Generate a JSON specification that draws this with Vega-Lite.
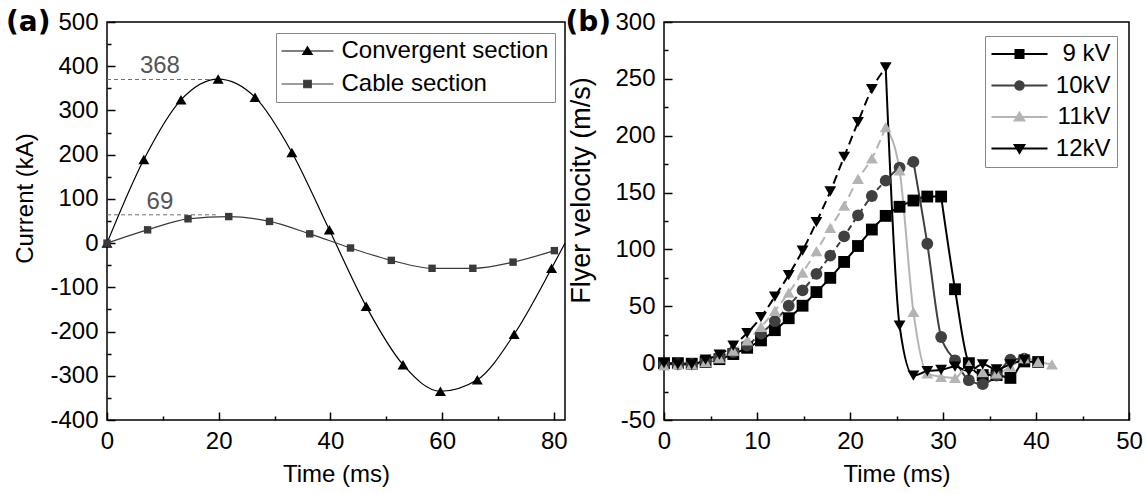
{
  "$schema": "https://vega.github.io/schema/vega-lite/v6.json",
  "background": "white",
  "padding": {"left": 5, "top": 7, "right": 0, "bottom": 0},
  "bounds": "flush",
  "spacing": 99,
  "resolve": {
    "scale": {"color": "independent", "stroke": "independent", "shape": "independent", "size": "independent", "strokeDash": "independent"},
    "legend": {"color": "independent", "stroke": "independent", "shape": "independent", "size": "independent", "strokeDash": "independent"}
  },
  "config": {
    "font": "Liberation Sans",
    "view": {"stroke": "black", "strokeWidth": 1.5},
    "axis": {
      "grid": false, "domain": false, "ticks": true,
      "tickColor": "black", "tickWidth": 1.5,
      "labelFont": "Liberation Sans", "labelFontSize": 24, "labelColor": "black",
      "titleFont": "Liberation Sans", "titleFontSize": 24, "titleFontWeight": "normal", "titleColor": "black",
      "labelOverlap": false, "labelFlush": false
    },
    "title": {"font": "DejaVu Sans", "fontSize": 28, "fontWeight": "bold", "color": "black", "anchor": "start", "frame": "group"}
  },
  "datasets": {
    "peaks": [
      {"t0": 0, "t1": 19.5, "value": 370, "label": "368"},
      {"t0": 0, "t1": 19.5, "value": 64, "label": "69"}
    ],
    "current": [
      {"series": "Convergent section", "t": 0, "I": 0},
      {"series": "Convergent section", "t": 6.6, "I": 189},
      {"series": "Convergent section", "t": 13.25, "I": 324},
      {"series": "Convergent section", "t": 19.9, "I": 371},
      {"series": "Convergent section", "t": 26.5, "I": 330},
      {"series": "Convergent section", "t": 33.1, "I": 205},
      {"series": "Convergent section", "t": 39.8, "I": 30},
      {"series": "Convergent section", "t": 46.4, "I": -143},
      {"series": "Convergent section", "t": 53.0, "I": -275},
      {"series": "Convergent section", "t": 59.7, "I": -335},
      {"series": "Convergent section", "t": 66.3, "I": -309},
      {"series": "Convergent section", "t": 72.9, "I": -206},
      {"series": "Convergent section", "t": 79.6, "I": -57},
      {"series": "Convergent section", "t": 82, "I": 0},
      {"series": "Cable section", "t": 0, "I": 0},
      {"series": "Cable section", "t": 7.27, "I": 30},
      {"series": "Cable section", "t": 14.5, "I": 55},
      {"series": "Cable section", "t": 21.8, "I": 60},
      {"series": "Cable section", "t": 29.1, "I": 49},
      {"series": "Cable section", "t": 36.3, "I": 21},
      {"series": "Cable section", "t": 43.6, "I": -11},
      {"series": "Cable section", "t": 50.9, "I": -39},
      {"series": "Cable section", "t": 58.2, "I": -57},
      {"series": "Cable section", "t": 65.5, "I": -57},
      {"series": "Cable section", "t": 72.7, "I": -43},
      {"series": "Cable section", "t": 80.1, "I": -17}
    ],
    "velocity": [
      {"voltage": "9 kV", "t": 0, "v": 0, "phase": "rise"},
      {"voltage": "9 kV", "t": 1.49, "v": 0, "phase": "rise"},
      {"voltage": "9 kV", "t": 2.98, "v": -0.5, "phase": "rise"},
      {"voltage": "9 kV", "t": 4.47, "v": 1, "phase": "rise"},
      {"voltage": "9 kV", "t": 5.96, "v": 3.5, "phase": "rise"},
      {"voltage": "9 kV", "t": 7.45, "v": 8, "phase": "rise"},
      {"voltage": "9 kV", "t": 8.94, "v": 13.5, "phase": "rise"},
      {"voltage": "9 kV", "t": 10.43, "v": 20, "phase": "rise"},
      {"voltage": "9 kV", "t": 11.92, "v": 29, "phase": "rise"},
      {"voltage": "9 kV", "t": 13.41, "v": 39.5, "phase": "rise"},
      {"voltage": "9 kV", "t": 14.9, "v": 50.5, "phase": "rise"},
      {"voltage": "9 kV", "t": 16.39, "v": 62.5, "phase": "rise"},
      {"voltage": "9 kV", "t": 17.88, "v": 75, "phase": "rise"},
      {"voltage": "9 kV", "t": 19.37, "v": 89, "phase": "rise"},
      {"voltage": "9 kV", "t": 20.86, "v": 103, "phase": "rise"},
      {"voltage": "9 kV", "t": 22.35, "v": 117.5, "phase": "rise"},
      {"voltage": "9 kV", "t": 23.84, "v": 129.5, "phase": "rise"},
      {"voltage": "9 kV", "t": 25.33, "v": 137.5, "phase": "rise"},
      {"voltage": "9 kV", "t": 26.82, "v": 143, "phase": "rise"},
      {"voltage": "9 kV", "t": 28.31, "v": 146.5, "phase": "rise"},
      {"voltage": "9 kV", "t": 29.8, "v": 146.5, "phase": "peak"},
      {"voltage": "9 kV", "t": 31.29, "v": 65, "phase": "fall"},
      {"voltage": "9 kV", "t": 32.78, "v": 0, "phase": "fall"},
      {"voltage": "9 kV", "t": 34.27, "v": -10.5, "phase": "fall"},
      {"voltage": "9 kV", "t": 35.76, "v": -10.5, "phase": "fall"},
      {"voltage": "9 kV", "t": 37.25, "v": -13, "phase": "fall"},
      {"voltage": "9 kV", "t": 38.74, "v": 1.5, "phase": "fall"},
      {"voltage": "9 kV", "t": 40.23, "v": 1, "phase": "fall"},
      {"voltage": "10kV", "t": 0, "v": -1, "phase": "rise"},
      {"voltage": "10kV", "t": 1.49, "v": -1, "phase": "rise"},
      {"voltage": "10kV", "t": 2.98, "v": -1, "phase": "rise"},
      {"voltage": "10kV", "t": 4.47, "v": 2, "phase": "rise"},
      {"voltage": "10kV", "t": 5.96, "v": 5, "phase": "rise"},
      {"voltage": "10kV", "t": 7.45, "v": 9.7, "phase": "rise"},
      {"voltage": "10kV", "t": 8.94, "v": 15.5, "phase": "rise"},
      {"voltage": "10kV", "t": 10.43, "v": 26, "phase": "rise"},
      {"voltage": "10kV", "t": 11.92, "v": 37, "phase": "rise"},
      {"voltage": "10kV", "t": 13.41, "v": 50.5, "phase": "rise"},
      {"voltage": "10kV", "t": 14.9, "v": 64, "phase": "rise"},
      {"voltage": "10kV", "t": 16.39, "v": 78.5, "phase": "rise"},
      {"voltage": "10kV", "t": 17.88, "v": 94.5, "phase": "rise"},
      {"voltage": "10kV", "t": 19.37, "v": 111.5, "phase": "rise"},
      {"voltage": "10kV", "t": 20.86, "v": 130, "phase": "rise"},
      {"voltage": "10kV", "t": 22.35, "v": 147, "phase": "rise"},
      {"voltage": "10kV", "t": 23.84, "v": 160.5, "phase": "rise"},
      {"voltage": "10kV", "t": 25.33, "v": 172, "phase": "rise"},
      {"voltage": "10kV", "t": 26.82, "v": 177, "phase": "peak"},
      {"voltage": "10kV", "t": 28.31, "v": 105, "phase": "fall"},
      {"voltage": "10kV", "t": 29.8, "v": 23, "phase": "fall"},
      {"voltage": "10kV", "t": 31.29, "v": 2.5, "phase": "fall"},
      {"voltage": "10kV", "t": 32.78, "v": -15, "phase": "fall"},
      {"voltage": "10kV", "t": 34.27, "v": -18.5, "phase": "fall"},
      {"voltage": "10kV", "t": 35.76, "v": -11, "phase": "fall"},
      {"voltage": "10kV", "t": 37.25, "v": 3, "phase": "fall"},
      {"voltage": "10kV", "t": 38.74, "v": 4, "phase": "fall"},
      {"voltage": "11kV", "t": 0, "v": -2, "phase": "rise"},
      {"voltage": "11kV", "t": 1.49, "v": -1, "phase": "rise"},
      {"voltage": "11kV", "t": 2.98, "v": -1, "phase": "rise"},
      {"voltage": "11kV", "t": 4.47, "v": 1, "phase": "rise"},
      {"voltage": "11kV", "t": 5.96, "v": 4.5, "phase": "rise"},
      {"voltage": "11kV", "t": 7.45, "v": 11, "phase": "rise"},
      {"voltage": "11kV", "t": 8.94, "v": 20, "phase": "rise"},
      {"voltage": "11kV", "t": 10.43, "v": 32, "phase": "rise"},
      {"voltage": "11kV", "t": 11.92, "v": 46, "phase": "rise"},
      {"voltage": "11kV", "t": 13.41, "v": 62, "phase": "rise"},
      {"voltage": "11kV", "t": 14.9, "v": 79.5, "phase": "rise"},
      {"voltage": "11kV", "t": 16.39, "v": 98.5, "phase": "rise"},
      {"voltage": "11kV", "t": 17.88, "v": 119, "phase": "rise"},
      {"voltage": "11kV", "t": 19.37, "v": 138.5, "phase": "rise"},
      {"voltage": "11kV", "t": 20.86, "v": 162, "phase": "rise"},
      {"voltage": "11kV", "t": 22.35, "v": 180, "phase": "rise"},
      {"voltage": "11kV", "t": 23.84, "v": 207.5, "phase": "peak"},
      {"voltage": "11kV", "t": 25.33, "v": 169.5, "phase": "fall"},
      {"voltage": "11kV", "t": 26.82, "v": 45, "phase": "fall"},
      {"voltage": "11kV", "t": 28.31, "v": -9, "phase": "fall"},
      {"voltage": "11kV", "t": 29.8, "v": -12, "phase": "fall"},
      {"voltage": "11kV", "t": 31.29, "v": -13, "phase": "fall"},
      {"voltage": "11kV", "t": 32.78, "v": -1.5, "phase": "fall"},
      {"voltage": "11kV", "t": 34.27, "v": -8, "phase": "fall"},
      {"voltage": "11kV", "t": 35.76, "v": -9, "phase": "fall"},
      {"voltage": "11kV", "t": 37.25, "v": -3, "phase": "fall"},
      {"voltage": "11kV", "t": 38.74, "v": 4.5, "phase": "fall"},
      {"voltage": "11kV", "t": 40.23, "v": 1, "phase": "fall"},
      {"voltage": "11kV", "t": 41.72, "v": -1, "phase": "fall"},
      {"voltage": "12kV", "t": 0, "v": 0, "phase": "rise"},
      {"voltage": "12kV", "t": 1.49, "v": -1, "phase": "rise"},
      {"voltage": "12kV", "t": 2.98, "v": -1, "phase": "rise"},
      {"voltage": "12kV", "t": 4.47, "v": 3, "phase": "rise"},
      {"voltage": "12kV", "t": 5.96, "v": 7.5, "phase": "rise"},
      {"voltage": "12kV", "t": 7.45, "v": 15.5, "phase": "rise"},
      {"voltage": "12kV", "t": 8.94, "v": 26.5, "phase": "rise"},
      {"voltage": "12kV", "t": 10.43, "v": 40.5, "phase": "rise"},
      {"voltage": "12kV", "t": 11.92, "v": 58.5, "phase": "rise"},
      {"voltage": "12kV", "t": 13.41, "v": 77.5, "phase": "rise"},
      {"voltage": "12kV", "t": 14.9, "v": 99, "phase": "rise"},
      {"voltage": "12kV", "t": 16.39, "v": 124, "phase": "rise"},
      {"voltage": "12kV", "t": 17.88, "v": 151, "phase": "rise"},
      {"voltage": "12kV", "t": 19.37, "v": 181.5, "phase": "rise"},
      {"voltage": "12kV", "t": 20.86, "v": 212, "phase": "rise"},
      {"voltage": "12kV", "t": 22.35, "v": 241, "phase": "rise"},
      {"voltage": "12kV", "t": 23.84, "v": 260, "phase": "peak"},
      {"voltage": "12kV", "t": 25.33, "v": 33, "phase": "fall"},
      {"voltage": "12kV", "t": 26.82, "v": -11, "phase": "fall"},
      {"voltage": "12kV", "t": 28.31, "v": -7, "phase": "fall"},
      {"voltage": "12kV", "t": 29.8, "v": -6, "phase": "fall"},
      {"voltage": "12kV", "t": 31.29, "v": -3, "phase": "fall"},
      {"voltage": "12kV", "t": 32.78, "v": -7, "phase": "fall"},
      {"voltage": "12kV", "t": 34.27, "v": -1, "phase": "fall"},
      {"voltage": "12kV", "t": 35.76, "v": -5.5, "phase": "fall"},
      {"voltage": "12kV", "t": 37.25, "v": -1, "phase": "fall"},
      {"voltage": "12kV", "t": 38.74, "v": 3, "phase": "fall"}
    ]
  },
  "hconcat": [
    {
      "width": 458,
      "height": 398,
      "title": {"text": "(a)", "dx": -101, "dy": 48.5, "baseline": "alphabetic", "offset": 0},
      "layer": [
        {
          "data": {"name": "peaks"},
          "mark": {"type": "rule", "strokeDash": [4, 3], "color": "#707070", "strokeWidth": 1},
          "encoding": {
            "x": {"field": "t0", "type": "quantitative", "scale": {"domain": [0, 82], "nice": false, "zero": false},
              "axis": {"orient": "bottom", "values": [0, 20, 40, 60, 80], "tickSize": -8, "labelPadding": 17, "title": "Time (ms)", "titleY": 42, "titleBaseline": "top", "labelExpr": "replace(datum.label, '\u2212', '-')"}},
            "x2": {"field": "t1"},
            "y": {"field": "value", "type": "quantitative", "scale": {"domain": [-400, 500], "nice": false, "zero": false},
              "axis": {"orient": "left", "values": [-400, -300, -200, -100, 0, 100, 200, 300, 400, 500], "tickSize": -8, "labelPadding": 17, "title": "Current (kA)", "titleX": -70, "titleY": 176, "titleAngle": 270, "titleBaseline": "bottom", "titleAlign": "center", "labelExpr": "replace(datum.label, '\u2212', '-')"}}
          }
        },
        {
          "data": {"name": "peaks"},
          "mark": {"type": "text", "fontSize": 24, "font": "Liberation Sans", "color": "#555555", "align": "center", "baseline": "alphabetic", "dx": -56, "dy": -6},
          "encoding": {
            "x": {"field": "t1", "type": "quantitative", "scale": {"domain": [0, 82], "nice": false, "zero": false}, "axis": null},
            "y": {"field": "value", "type": "quantitative", "scale": {"domain": [-400, 500], "nice": false, "zero": false}, "axis": null},
            "text": {"field": "label"}
          }
        },
        {
          "data": {"name": "current"},
          "transform": [{"filter": "datum.t <= 81"}],
          "mark": {"type": "point", "filled": true, "opacity": 0},
          "encoding": {
            "x": {"field": "t", "type": "quantitative", "scale": {"domain": [0, 82], "nice": false, "zero": false}, "axis": null},
            "y": {"field": "I", "type": "quantitative", "scale": {"domain": [-400, 500], "nice": false, "zero": false}, "axis": null},
            "shape": {"field": "series", "type": "nominal", "scale": {"domain": ["Convergent section", "Cable section"], "range": ["M-5.2,0H5.2M0,-0.85L0.95,0.7L-0.95,0.7Z", "M-5.2,0H5.2M-0.75,-0.75H0.75V0.75H-0.75Z"]},
              "legend": {"orient": "none", "legendX": 169, "legendY": 11, "title": null, "padding": 6, "strokeColor": "#888888", "fillColor": "white",
                "labelFont": "Liberation Sans", "labelFontSize": 24, "labelColor": "black", "labelLimit": 400, "symbolSize": 100, "symbolOffset": 13.5, "labelOffset": 22, "rowPadding": 9, "symbolStrokeWidth": 1.2, "symbolOpacity": 1,
                "labelExpr": "datum.label === 'Cable section' ? '\u00a0\u00a0\u00a0\u00a0' + datum.label : datum.label"}},
            "color": {"field": "series", "type": "nominal", "scale": {"domain": ["Convergent section", "Cable section"], "range": ["#000000", "#3a3a3a"]},
              "legend": {"orient": "none", "legendX": 169, "legendY": 11, "title": null, "padding": 6, "strokeColor": "#888888", "fillColor": "white",
                "labelFont": "Liberation Sans", "labelFontSize": 24, "labelColor": "black", "labelLimit": 400, "symbolSize": 100, "symbolOffset": 13.5, "labelOffset": 22, "rowPadding": 9, "symbolStrokeWidth": 1.2, "symbolOpacity": 1,
                "labelExpr": "datum.label === 'Cable section' ? '\u00a0\u00a0\u00a0\u00a0' + datum.label : datum.label"}},
            "stroke": {"field": "series", "type": "nominal", "scale": {"domain": ["Convergent section", "Cable section"], "range": ["#000000", "#3a3a3a"]},
              "legend": {"orient": "none", "legendX": 169, "legendY": 11, "title": null, "padding": 6, "strokeColor": "#888888", "fillColor": "white",
                "labelFont": "Liberation Sans", "labelFontSize": 24, "labelColor": "black", "labelLimit": 400, "symbolSize": 100, "symbolOffset": 13.5, "labelOffset": 22, "rowPadding": 9, "symbolStrokeWidth": 1.2, "symbolOpacity": 1,
                "labelExpr": "datum.label === 'Cable section' ? '\u00a0\u00a0\u00a0\u00a0' + datum.label : datum.label"}}
          }
        },
        {
          "data": {"name": "current"},
          "mark": {"type": "line", "interpolate": "monotone", "strokeWidth": 1.2},
          "encoding": {
            "x": {"field": "t", "type": "quantitative", "scale": {"domain": [0, 82], "nice": false, "zero": false},
              "axis": {"orient": "bottom", "values": [10, 30, 50, 70], "tickSize": -4, "labels": false, "title": null}},
            "y": {"field": "I", "type": "quantitative", "scale": {"domain": [-400, 500], "nice": false, "zero": false},
              "axis": {"orient": "left", "values": [-350, -250, -150, -50, 50, 150, 250, 350, 450], "tickSize": -4, "labels": false, "title": null}},
            "color": {"field": "series", "type": "nominal", "scale": {"domain": ["Convergent section", "Cable section"], "range": ["#000000", "#3a3a3a"]}, "legend": null}
          }
        },
        {
          "data": {"name": "current"},
          "transform": [{"filter": "datum.t <= 81"}],
          "mark": {"type": "point", "filled": true, "opacity": 1},
          "encoding": {
            "x": {"field": "t", "type": "quantitative", "scale": {"domain": [0, 82], "nice": false, "zero": false}, "axis": null},
            "y": {"field": "I", "type": "quantitative", "scale": {"domain": [-400, 500], "nice": false, "zero": false}, "axis": null},
            "size": {"field": "series", "type": "nominal", "scale": {"domain": ["Cable section", "Convergent section"], "range": [55, 120]}, "legend": null},
            "shape": {"field": "series", "type": "nominal", "scale": {"domain": ["Cable section", "Convergent section"], "range": ["square", "triangle-up"]}, "legend": null},
            "color": {"field": "series", "type": "nominal", "scale": {"domain": ["Convergent section", "Cable section"], "range": ["#000000", "#3a3a3a"]}, "legend": null}
          }
        }
      ],
      "resolve": {
        "axis": {"x": "independent", "y": "independent"},
        "scale": {"color": "independent", "stroke": "independent", "shape": "independent", "size": "independent"},
        "legend": {"color": "independent", "stroke": "independent", "shape": "independent", "size": "independent"}
      }
    },
    {
      "width": 465,
      "height": 398,
      "title": {"text": "(b)", "dx": -98.5, "dy": 48.5, "baseline": "alphabetic", "offset": 0},
      "layer": [
        {
          "data": {"name": "velocity"},
          "mark": {"type": "point", "filled": true, "opacity": 0},
          "encoding": {
            "x": {"field": "t", "type": "quantitative", "scale": {"domain": [0, 50], "nice": false, "zero": false},
              "axis": {"orient": "bottom", "values": [0, 10, 20, 30, 40, 50], "tickSize": -8, "labelPadding": 17, "title": "Time (ms)", "titleY": 42, "titleBaseline": "top", "labelExpr": "replace(datum.label, '\u2212', '-')"}},
            "y": {"field": "v", "type": "quantitative", "scale": {"domain": [-50, 300], "nice": false, "zero": false},
              "axis": {"orient": "left", "values": [-50, 0, 50, 100, 150, 200, 250, 300], "tickSize": -8, "labelPadding": 17, "title": "Flyer velocity (m/s)", "titleFontSize": 27, "titleX": -69, "titleY": 168, "titleAngle": 270, "titleBaseline": "bottom", "titleAlign": "center", "labelExpr": "replace(datum.label, '\u2212', '-')"}},
            "shape": {"field": "voltage", "type": "nominal", "scale": {"domain": ["9 kV", "10kV", "11kV", "12kV"], "range": ["M-5.6,0H5.6M-0.8,-0.8H0.8V0.8H-0.8Z", "M-5.6,0H5.6M0.85,0A0.85,0.85,0,1,1,-0.85,0A0.85,0.85,0,1,1,0.85,0Z", "M-5.6,0H5.6M0,-0.85L0.95,0.7L-0.95,0.7Z", "M-5.6,0H5.6M-0.95,-0.7L0.95,-0.7L0,0.85Z"]},
              "legend": {"orient": "none", "legendX": 321, "legendY": 14, "title": null, "padding": 6, "strokeColor": "#888888", "fillColor": "white",
                "labelFont": "Liberation Sans", "labelFontSize": 24, "labelColor": "black", "labelAlign": "right", "labelLimit": 400, "symbolSize": 100, "symbolOffset": 16.5, "labelOffset": 79, "rowPadding": 7.5, "symbolStrokeWidth": 2, "symbolOpacity": 1}},
            "color": {"field": "voltage", "type": "nominal", "scale": {"domain": ["9 kV", "10kV", "11kV", "12kV"], "range": ["#000000", "#404040", "#b4b4b4", "#000000"]},
              "legend": {"orient": "none", "legendX": 321, "legendY": 14, "title": null, "padding": 6, "strokeColor": "#888888", "fillColor": "white",
                "labelFont": "Liberation Sans", "labelFontSize": 24, "labelColor": "black", "labelAlign": "right", "labelLimit": 400, "symbolSize": 100, "symbolOffset": 16.5, "labelOffset": 79, "rowPadding": 7.5, "symbolStrokeWidth": 2, "symbolOpacity": 1}},
            "stroke": {"field": "voltage", "type": "nominal", "scale": {"domain": ["9 kV", "10kV", "11kV", "12kV"], "range": ["#000000", "#404040", "#b4b4b4", "#000000"]},
              "legend": {"orient": "none", "legendX": 321, "legendY": 14, "title": null, "padding": 6, "strokeColor": "#888888", "fillColor": "white",
                "labelFont": "Liberation Sans", "labelFontSize": 24, "labelColor": "black", "labelAlign": "right", "labelLimit": 400, "symbolSize": 100, "symbolOffset": 16.5, "labelOffset": 79, "rowPadding": 7.5, "symbolStrokeWidth": 2, "symbolOpacity": 1}}
          }
        },
        {
          "data": {"name": "velocity"},
          "transform": [{"filter": "datum.phase !== 'fall'"}],
          "mark": {"type": "line", "interpolate": "monotone", "strokeWidth": 2},
          "encoding": {
            "x": {"field": "t", "type": "quantitative", "scale": {"domain": [0, 50], "nice": false, "zero": false}, "axis": null},
            "y": {"field": "v", "type": "quantitative", "scale": {"domain": [-50, 300], "nice": false, "zero": false}, "axis": null},
            "color": {"field": "voltage", "type": "nominal", "scale": {"domain": ["9 kV", "10kV", "11kV", "12kV"], "range": ["#000000", "#404040", "#b4b4b4", "#000000"]}, "legend": null},
            "strokeDash": {"field": "voltage", "type": "nominal", "scale": {"domain": ["12kV", "11kV", "10kV", "9 kV"], "range": [[9, 5], [9, 5], [6, 4], [1, 0]]}, "legend": null}
          }
        },
        {
          "data": {"name": "velocity"},
          "transform": [{"filter": "datum.phase !== 'rise'"}],
          "mark": {"type": "line", "interpolate": "monotone", "strokeWidth": 2},
          "encoding": {
            "x": {"field": "t", "type": "quantitative", "scale": {"domain": [0, 50], "nice": false, "zero": false},
              "axis": {"orient": "bottom", "values": [5, 15, 25, 35, 45], "tickSize": -4, "labels": false, "title": null}},
            "y": {"field": "v", "type": "quantitative", "scale": {"domain": [-50, 300], "nice": false, "zero": false},
              "axis": {"orient": "left", "values": [-25, 25, 75, 125, 175, 225, 275], "tickSize": -4, "labels": false, "title": null}},
            "color": {"field": "voltage", "type": "nominal", "scale": {"domain": ["9 kV", "10kV", "11kV", "12kV"], "range": ["#000000", "#404040", "#b4b4b4", "#000000"]}, "legend": null}
          }
        },
        {
          "data": {"name": "velocity"},
          "mark": {"type": "point", "filled": true, "opacity": 1},
          "encoding": {
            "x": {"field": "t", "type": "quantitative", "scale": {"domain": [0, 50], "nice": false, "zero": false}, "axis": null},
            "y": {"field": "v", "type": "quantitative", "scale": {"domain": [-50, 300], "nice": false, "zero": false}, "axis": null},
            "size": {"field": "voltage", "type": "nominal", "scale": {"domain": ["12kV", "11kV", "10kV", "9 kV"], "range": [140, 140, 75, 55]}, "legend": null},
            "shape": {"field": "voltage", "type": "nominal", "scale": {"domain": ["12kV", "11kV", "10kV", "9 kV"], "range": ["triangle-down", "triangle-up", "circle", "square"]}, "legend": null},
            "color": {"field": "voltage", "type": "nominal", "scale": {"domain": ["9 kV", "10kV", "11kV", "12kV"], "range": ["#000000", "#404040", "#b4b4b4", "#000000"]}, "legend": null}
          }
        }
      ],
      "resolve": {
        "axis": {"x": "independent", "y": "independent"},
        "scale": {"color": "independent", "stroke": "independent", "shape": "independent", "size": "independent", "strokeDash": "independent"},
        "legend": {"color": "independent", "stroke": "independent", "shape": "independent", "size": "independent", "strokeDash": "independent"}
      }
    }
  ]
}
